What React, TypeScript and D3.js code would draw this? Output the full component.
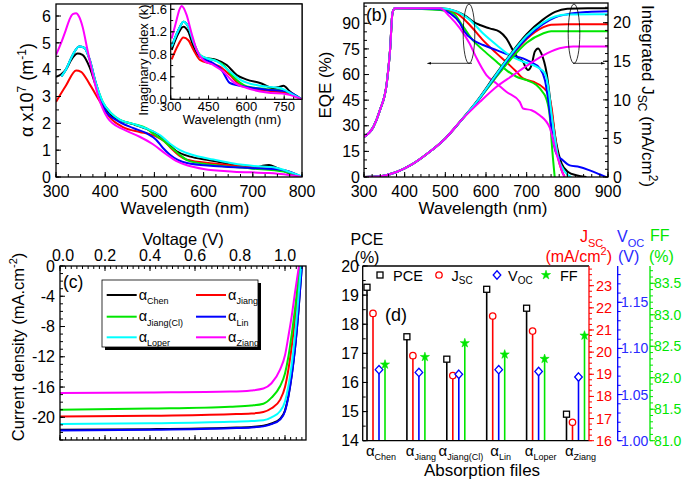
import React from "react";
import * as d3 from "d3";

const FONT = "'Liberation Sans', Arial, Helvetica, sans-serif";
const BLACK = "#000000";
const RED = "#ff0000";
const GREEN = "#00e600";
const BLUE = "#0000ff";
const CYAN = "#00ffff";
const MAGENTA = "#ff00ff";

const categories = ["Chen", "Jiang", "Jiang(Cl)", "Lin", "Loper", "Ziang"];
const seriesColors = [BLACK, RED, GREEN, BLUE, CYAN, MAGENTA];

// ---------- (a) absorption coefficient, alpha x 1e7 (m^-1) ----------
const alphaChen = [[300,3.73],[310,3.82],[320,4.0],[334,4.45],[344,4.6],[354,4.55],[368,4.1],[381,3.4],[395,2.75],[412,2.31],[429,2.12],[456,1.97],[483,1.8],[504,1.62],[525,1.3],[546,0.95],[573,0.76],[607,0.64],[634,0.55],[661,0.44],[690,0.35],[705,0.34],[720,0.42],[733,0.45],[748,0.35],[776,0.12],[800,0.02]];
const alphaJiang = [[300,2.8],[320,3.4],[341,3.97],[351,3.92],[368,3.47],[388,2.85],[409,2.23],[436,1.86],[470,1.68],[490,1.6],[505,1.5],[520,1.33],[535,1.05],[550,0.8],[566,0.64],[620,0.5],[695,0.37],[763,0.25],[800,0.0]];
const alphaJiangCl = [[311,3.75],[320,4.0],[334,4.55],[347,4.86],[357,4.82],[368,4.4],[381,3.5],[395,2.8],[412,2.38],[430,2.13],[457,1.98],[485,1.8],[497,1.62],[517,1.38],[531,1.15],[550,0.85],[570,0.6],[620,0.45],[695,0.32],[763,0.2],[800,0.0]];
const alphaLin = [[311,3.75],[320,4.0],[334,4.55],[347,4.86],[357,4.82],[368,4.4],[381,3.5],[395,2.72],[402,2.43],[422,2.13],[456,1.83],[483,1.64],[503,1.4],[517,1.09],[531,0.84],[566,0.52],[620,0.41],[695,0.34],[763,0.25],[800,0.0]];
const alphaLoper = [[311,3.75],[320,4.0],[334,4.55],[347,4.86],[357,4.82],[368,4.4],[381,3.5],[395,2.8],[412,2.38],[430,2.13],[457,1.98],[485,1.8],[512,1.55],[532,1.24],[552,1.0],[580,0.81],[620,0.65],[661,0.5],[702,0.41],[742,0.36],[776,0.18],[800,0.02]];
const alphaZiang = [[300,4.55],[310,4.98],[320,5.48],[327,5.85],[334,6.07],[341,6.1],[347,5.97],[354,5.6],[364,4.73],[375,3.8],[385,3.05],[395,2.55],[405,2.2],[415,2.0],[436,1.78],[470,1.5],[497,1.22],[524,0.85],[544,0.6],[570,0.42],[600,0.3],[661,0.2],[729,0.15],[763,0.1],[800,0.0]];

// inset: imaginary index k
const kChen = [[304,0.88],[330,1.17],[350,1.29],[370,1.2],[390,0.94],[416,0.76],[443,0.73],[482,0.7],[522,0.61],[562,0.43],[602,0.35],[654,0.29],[707,0.2],[730,0.22],[747,0.24],[773,0.14],[800,0.05],[820,0.0]];
const kJiang = [[304,0.71],[330,0.97],[350,1.1],[370,1.05],[390,0.88],[416,0.7],[456,0.64],[495,0.58],[535,0.43],[575,0.26],[654,0.17],[760,0.11],[820,0.0]];
const kJiangCl = [[304,0.94],[337,1.29],[350,1.38],[370,1.29],[390,1.02],[416,0.79],[443,0.73],[482,0.68],[509,0.61],[548,0.4],[602,0.23],[681,0.18],[760,0.14],[820,0.0]];
const kLin = [[304,0.94],[337,1.29],[350,1.38],[370,1.29],[390,1.02],[416,0.76],[469,0.64],[502,0.52],[535,0.29],[602,0.22],[681,0.17],[760,0.14],[820,0.0]];
const kLoper = [[304,0.94],[337,1.29],[350,1.38],[370,1.29],[390,1.02],[416,0.79],[443,0.73],[482,0.68],[535,0.49],[575,0.35],[654,0.24],[733,0.2],[786,0.08],[820,0.0]];
const kZiang = [[304,1.08],[320,1.35],[335,1.6],[344,1.66],[352,1.62],[363,1.5],[383,1.17],[403,0.88],[429,0.7],[469,0.61],[509,0.49],[548,0.31],[602,0.2],[681,0.12],[760,0.09],[820,0.0]];

// ---------- (b) EQE (%) ----------
const eqeUV = [[300,23.5],[323,29.3],[339,39],[356,55],[364,74],[370,96],[376,98.8]];
const eqeChen = [[487,98.8],[527,96.9],[552,93.9],[568,91],[585,89],[609,87],[634,85],[650,81.2],[666,74.3],[679,69.5],[691,67.5],[699,63.6],[703,62.6],[712,65.5],[720,73.4],[728,75.3],[736,72.4],[749,61],[761,39.1],[773,19.6],[786,7.8],[802,2.9],[822,1],[847,0]];
const eqeJiang = [[487,98.2],[527,95.9],[560,89],[593,80],[626,72.4],[658,65.5],[675,61.6],[691,57.7],[716,55.8],[740,52.5],[753,48.5],[761,41.1],[769,25.4],[777,11.7],[786,3.9],[794,0]];
const eqeJiangCl = [[487,97.8],[519,95.9],[544,88],[568,80],[593,74.3],[626,67.5],[650,62.6],[675,58.7],[700,56.7],[724,53.8],[740,49.5],[748,46],[757,35],[763,15.6],[769,0]];
const eqeLin = [[487,98.2],[511,95.9],[536,90],[546,85.5],[568,80.2],[593,77.3],[626,74.3],[658,71.4],[691,69.5],[708,67.5],[732,63.6],[745,56.7],[753,45],[765,21.5],[773,13.7],[789,9.8],[806,6.8],[830,5.9],[855,3.9],[879,1.6],[895,0]];
const eqeLoper = [[487,98.8],[527,96.9],[560,92],[593,84],[626,77.3],[658,71.4],[691,67.5],[724,64.6],[745,60.7],[753,52.8],[761,37.2],[769,23.5],[777,11.7],[789,4.9],[802,1],[810,0]];
const eqeZiang = [[487,98.8],[511,93.9],[536,87],[560,78],[577,69.5],[601,59.7],[626,54.8],[650,49.9],[683,44],[691,40.1],[712,39.1],[732,36.2],[757,28.8],[765,21.5],[773,13.7],[781,7.8],[789,2],[793,0]];

// integrated Jsc (mA/cm2)
const jintUV = [[300,0],[340,0.1],[380,0.65],[420,1.7],[460,3.2],[500,5.0],[540,7.4]];
const jintChen = [[580,10.0],[620,13.0],[660,15.9],[700,18.5],[740,20.4],[770,21.4],[800,21.8],[850,21.86],[900,21.86]];
const jintJiang = [[580,9.9],[620,12.8],[660,15.5],[700,17.9],[740,19.4],[760,19.75],[800,19.8],[900,19.8]];
const jintJiangCl = [[580,9.85],[620,12.6],[660,15.2],[700,17.4],[740,18.6],[760,18.9],[900,18.9]];
const jintLin = [[580,9.9],[620,12.8],[660,15.6],[700,18.0],[740,19.8],[770,20.7],[800,21.1],[850,21.4],[900,21.5]];
const jintLoper = [[580,9.95],[620,12.9],[660,15.8],[700,18.3],[740,20.0],[770,20.8],[800,21.05],[900,21.1]];
const jintZiang = [[585,9.74],[626,11.7],[667,13.2],[708,14.7],[749,16.0],[781,16.7],[814,16.9],[900,16.9]];

// ---------- (c) J-V curves ----------
const jvChen = [[0,-21.65],[0.4,-21.57],[0.756,-21.37],[0.85,-21.27],[0.904,-21.12],[0.94,-20.82],[0.978,-20.22],[1.0,-19.1],[1.015,-17.2],[1.03,-14.4],[1.044,-11.0],[1.06,-5.8],[1.075,0]];
const jvJiang = [[0,-19.9],[0.4,-19.8],[0.756,-19.6],[0.85,-19.5],[0.904,-19.3],[0.94,-18.8],[0.978,-17.7],[1.0,-16.0],[1.015,-13.7],[1.03,-10.6],[1.044,-7.1],[1.068,0]];
const jvJiangCl = [[0,-19.0],[0.4,-18.85],[0.756,-18.6],[0.85,-18.45],[0.904,-18.2],[0.94,-17.4],[0.978,-15.9],[1.0,-14.2],[1.015,-12.0],[1.03,-9.0],[1.044,-5.8],[1.065,0]];
const jvLin = [[0,-21.75],[0.4,-21.65],[0.756,-21.45],[0.85,-21.35],[0.904,-21.2],[0.94,-20.9],[0.978,-20.3],[1.0,-19.2],[1.015,-17.3],[1.03,-14.5],[1.044,-11.1],[1.06,-5.9],[1.075,0]];
const jvLoper = [[0,-20.9],[0.4,-20.8],[0.756,-20.6],[0.85,-20.5],[0.904,-20.4],[0.94,-20.0],[0.978,-19.2],[1.0,-17.9],[1.015,-15.9],[1.03,-13.0],[1.044,-9.3],[1.071,0]];
const jvZiang = [[0,-16.8],[0.4,-16.72],[0.756,-16.6],[0.85,-16.45],[0.904,-16.2],[0.94,-15.5],[0.978,-13.7],[1.0,-11.8],[1.015,-9.3],[1.03,-6.6],[1.044,-3.6],[1.062,0]];

// ---------- (d) photovoltaic parameters ----------
const pceValues = [19.27, 17.57, 16.8, 19.2, 18.55, 14.91];
const jscValues = [21.75, 19.84, 18.94, 21.63, 20.95, 16.83];
const vocValues = [1.077, 1.074, 1.072, 1.077, 1.075, 1.069];
const ffValues = [82.21, 82.33, 82.55, 82.37, 82.3, 82.67];

const aXTicks = [300, 400, 500, 600, 700, 800];
const aYTicks = [0, 1, 2, 3, 4, 5, 6];
const insetXTicks = [300, 450, 600, 750];
const insetYTicks = [0, 0.4, 0.8, 1.2, 1.6];
const bXTicks = [300, 400, 500, 600, 700, 800, 900];
const bYTicks = [0, 15, 30, 45, 60, 75, 90];
const bY2Ticks = [0, 5, 10, 15, 20];
const cXTicks = [0, 0.2, 0.4, 0.6, 0.8, 1.0];
const cYTicks = [0, -4, -8, -12, -16, -20];
const dPceTicks = [14, 15, 16, 17, 18, 19, 20];
const dJscTicks = [16, 17, 18, 19, 20, 21, 22, 23];
const dVocTicks = [1.0, 1.05, 1.1, 1.15];
const dFFTicks = [81.0, 81.5, 82.0, 82.5, 83.0, 83.5];

type P = number[];

function mkLine(xs: any, ys: any) {
  return d3.line<P>().x((d) => xs(d[0])).y((d) => ys(d[1])).curve(d3.curveMonotoneX);
}

function vt(s: any, x: number, vals: number[], len: number, color: string, k: string) {
  return vals.map((v, i) => (
    <line key={k + i} x1={x} x2={x + len} y1={s(v)} y2={s(v)} stroke={color} strokeWidth={1} />
  ));
}
function ht(s: any, y: number, vals: number[], len: number, color: string, k: string) {
  return vals.map((v, i) => (
    <line key={k + i} x1={s(v)} x2={s(v)} y1={y} y2={y + len} stroke={color} strokeWidth={1} />
  ));
}
function rng(a: number, b: number, step: number) {
  return d3.range(a, b + step / 2, step);
}

function PanelA() {
  const ax = d3.scaleLinear().domain([300, 800]).range([56, 302]);
  const ay = d3.scaleLinear().domain([0, 6]).range([177, 16]);
  const ix = d3.scaleLinear().domain([300, 750]).range([170.7, 284.2]);
  const iy = d3.scaleLinear().domain([0, 1.6]).range([99.3, 9.3]);
  const L = mkLine(ax, ay);
  const IL = mkLine(ix, iy);
  const alphas = [alphaChen, alphaJiang, alphaJiangCl, alphaLin, alphaLoper, alphaZiang];
  const ks = [kChen, kJiang, kJiangCl, kLin, kLoper, kZiang];
  return (
    <g>
      <defs>
        <clipPath id="clipA"><rect x={56} y={4} width={246} height={173} /></clipPath>
        <clipPath id="clipI"><rect x={170.7} y={4} width={131.3} height={95.3} /></clipPath>
      </defs>
      <g clipPath="url(#clipA)">
        {alphas.map((d, i) => (
          <path key={i} d={L(d as any) || ""} fill="none" stroke={seriesColors[i]} strokeWidth={2} />
        ))}
      </g>
      {ht(ax, 177, rng(300, 800, 25), -3, BLACK, "amx")}
      {ht(ax, 177, aXTicks, -5, BLACK, "aMx")}
      {vt(ay, 56, rng(0, 6, 0.5), 3, BLACK, "amy")}
      {vt(ay, 56, aYTicks, 5, BLACK, "aMy")}
      <rect x={56} y={4} width={246} height={173} fill="none" stroke={BLACK} strokeWidth={1.3} />
      {aXTicks.map((v) => (
        <text key={"ax" + v} x={ax(v)} y={197} fontSize={16} textAnchor="middle">{v}</text>
      ))}
      {aYTicks.map((v) => (
        <text key={"ay" + v} x={51} y={ay(v) + 5.7} fontSize={16} textAnchor="end">{v}</text>
      ))}
      <text x={185} y={214} fontSize={17} textAnchor="middle">Wavelength (nm)</text>
      <text transform="translate(33,90) rotate(-90)" fontSize={18} textAnchor="middle">
        α x10<tspan fontSize={12} dy={-7}>7</tspan>
        <tspan dy={7}> (m</tspan>
        <tspan fontSize={12} dy={-7}>-1</tspan>
        <tspan dy={7}>)</tspan>
      </text>
      <text x={277} y={22} fontSize={17.5}>(a)</text>

      {/* inset */}
      <rect x={170.7} y={4} width={131.3} height={95.3} fill="#ffffff" stroke="none" />
      <g clipPath="url(#clipI)">
        {ks.map((d, i) => (
          <path key={i} d={IL(d as any) || ""} fill="none" stroke={seriesColors[i]} strokeWidth={2} />
        ))}
      </g>
      {ht(ix, 99.3, rng(300, 800, 37.5), -2.5, BLACK, "imx")}
      {ht(ix, 99.3, insetXTicks, -4, BLACK, "iMx")}
      {vt(iy, 170.7, rng(0, 1.6, 0.2), 2.5, BLACK, "imy")}
      {vt(iy, 170.7, insetYTicks, 4, BLACK, "iMy")}
      <rect x={170.7} y={4} width={131.3} height={95.3} fill="none" stroke={BLACK} strokeWidth={1.2} />
      {insetXTicks.map((v) => (
        <text key={"ix" + v} x={ix(v)} y={111} fontSize={13} textAnchor="middle">{v}</text>
      ))}
      {insetYTicks.map((v) => (
        <text key={"iy" + v} x={167} y={iy(v) + 4.6} fontSize={13} textAnchor="end">{v.toFixed(1)}</text>
      ))}
      <text x={232} y={124} fontSize={13} textAnchor="middle">Wavelength (nm)</text>
      <text transform="translate(147.5,60) rotate(-90)" fontSize={13} textAnchor="middle">Imaginary Index (k)</text>
    </g>
  );
}

function PanelB() {
  const bx = d3.scaleLinear().domain([300, 900]).range([364, 608]);
  const byL = d3.scaleLinear().domain([0, 90]).range([177, 23.3]);
  const byR = d3.scaleLinear().domain([0, 20]).range([177, 22.7]);
  const LE = mkLine(bx, byL);
  const LJ = mkLine(bx, byR);
  const eqes = [eqeChen, eqeJiang, eqeJiangCl, eqeLin, eqeLoper, eqeZiang];
  const jints = [jintChen, jintJiang, jintJiangCl, jintLin, jintLoper, jintZiang];
  const order = [0, 1, 2, 3, 4, 5];
  return (
    <g>
      <defs>
        <clipPath id="clipB"><rect x={364} y={3} width={244} height={174} /></clipPath>
        <marker id="arrL" viewBox="0 0 10 10" refX={1} refY={5} markerWidth={6} markerHeight={6} orient="auto-start-reverse">
          <path d="M0,2 L10,5 L0,8 z" fill={BLACK} />
        </marker>
      </defs>
      <g clipPath="url(#clipB)">
        {order.map((i) => (
          <path key={"e" + i} d={LE(eqeUV.concat(eqes[i]) as any) || ""} fill="none" stroke={seriesColors[i]} strokeWidth={2} />
        ))}
        {order.map((i) => (
          <path key={"j" + i} d={LJ(jintUV.concat(jints[i]) as any) || ""} fill="none" stroke={seriesColors[i]} strokeWidth={2} />
        ))}
      </g>
      {ht(bx, 177, rng(300, 900, 20), -3, BLACK, "bmx")}
      {ht(bx, 177, bXTicks, -5, BLACK, "bMx")}
      {vt(byL, 364, rng(0, 100, 5), 3, BLACK, "bmy")}
      {vt(byL, 364, bYTicks, 5, BLACK, "bMy")}
      {vt(byR, 608, rng(0, 22, 1), -3, BLACK, "bmr")}
      {vt(byR, 608, bY2Ticks, -5, BLACK, "bMr")}
      <rect x={364} y={3} width={244} height={174} fill="none" stroke={BLACK} strokeWidth={1.3} />
      {bXTicks.map((v) => (
        <text key={"bx" + v} x={bx(v)} y={197} fontSize={16} textAnchor="middle">{v}</text>
      ))}
      {bYTicks.map((v) => (
        <text key={"by" + v} x={360} y={byL(v) + 5.7} fontSize={16} textAnchor="end">{v}</text>
      ))}
      {bY2Ticks.map((v) => (
        <text key={"br" + v} x={613} y={byR(v) + 5.7} fontSize={16} textAnchor="start">{v}</text>
      ))}
      <text x={483} y={214} fontSize={17} textAnchor="middle">Wavelength (nm)</text>
      <text transform="translate(331,85) rotate(-90)" fontSize={17} textAnchor="middle">EQE (%)</text>
      <text transform="translate(642,96) rotate(90)" fontSize={17} textAnchor="middle">
        Integrated J<tspan fontSize={12} dy={4}>SC</tspan>
        <tspan dy={-4}> (mA/cm</tspan>
        <tspan fontSize={12} dy={-7}>2</tspan>
        <tspan dy={7}>)</tspan>
      </text>
      <text x={366} y={21} fontSize={17.5}>(b)</text>
      {/* ellipses and arrows */}
      <ellipse cx={469} cy={33.7} rx={5.8} ry={29.7} fill="none" stroke={BLACK} strokeWidth={0.8} />
      <line x1={472} y1={63.3} x2={431} y2={63.3} stroke={BLACK} strokeWidth={0.8} markerEnd="url(#arrL)" />
      <ellipse cx={574} cy={33.7} rx={5.8} ry={29.7} fill="none" stroke={BLACK} strokeWidth={0.8} />
      <line x1={573} y1={63.3} x2={601} y2={63.3} stroke={BLACK} strokeWidth={0.8} markerEnd="url(#arrL)" />
    </g>
  );
}

function PanelC() {
  const cx = d3.scaleLinear().domain([0, 1]).range([60, 285]);
  const cy = d3.scaleLinear().domain([0, -20]).range([266, 417.3]);
  const L = mkLine(cx, cy);
  const jvs = [jvChen, jvJiang, jvJiangCl, jvLin, jvLoper, jvZiang];
  const legendRows = [295, 316.7, 337.3];
  return (
    <g>
      <defs>
        <clipPath id="clipC"><rect x={60} y={266} width={246} height={174} /></clipPath>
      </defs>
      <g clipPath="url(#clipC)">
        {jvs.map((d, i) => (
          <path key={i} d={L(d as any) || ""} fill="none" stroke={seriesColors[i]} strokeWidth={2} />
        ))}
      </g>
      {ht(cx, 266, rng(0, 1.075, 0.025), 3, BLACK, "cmx")}
      {ht(cx, 266, cXTicks, 5, BLACK, "cMx")}
      {ht(cx, 440, rng(0, 1.075, 0.025), -3, BLACK, "cmb")}
      {ht(cx, 440, cXTicks, -5, BLACK, "cMb")}
      {vt(cy, 60, rng(-23, 0, 1), 3, BLACK, "cmy")}
      {vt(cy, 60, cYTicks, 5, BLACK, "cMy")}
      <rect x={60} y={266} width={246} height={174} fill="none" stroke={BLACK} strokeWidth={1.3} />
      {cXTicks.map((v) => (
        <text key={"cx" + v} x={v === 0 ? cx(v) + 3 : cx(v)} y={261} fontSize={16} textAnchor="middle">{v.toFixed(1)}</text>
      ))}
      {cYTicks.map((v) => (
        <text key={"cy" + v} x={55} y={cy(v) + 5.7} fontSize={16} textAnchor="end">{v}</text>
      ))}
      <text x={183} y={245} fontSize={16.5} textAnchor="middle">Voltage (V)</text>
      <text transform="translate(24,347) rotate(-90)" fontSize={16.5} textAnchor="middle">
        Current density (mA.cm<tspan fontSize={11} dy={-7}>-2</tspan>
        <tspan dy={7}>)</tspan>
      </text>
      <text x={63} y={288} fontSize={17.5}>(c)</text>
      {/* legend */}
      <rect x={105} y={283} width={156} height={67} fill={BLACK} />
      <rect x={102} y={280} width={156} height={67} fill="#ffffff" stroke={BLACK} strokeWidth={0.8} />
      {categories.map((c, i) => {
        const row = Math.floor(i / 2);
        const col = i % 2;
        const x0 = col === 0 ? 106.7 : 196;
        const y0 = legendRows[row];
        return (
          <g key={c}>
            <line x1={x0} x2={x0 + 30} y1={y0} y2={y0} stroke={seriesColors[i]} strokeWidth={2} />
            <text x={x0 + 32} y={y0 + 4.5} fontSize={14.5}>
              α<tspan fontSize={9} dy={4.5}>{c}</tspan>
            </text>
          </g>
        );
      })}
    </g>
  );
}

function Star({ x, y, color }: { x: number; y: number; color: string }) {
  const p = d3.symbol().type(d3.symbolStar).size(26)();
  return <path d={p || ""} transform={`translate(${x},${y})`} fill={color} stroke={color} strokeWidth={0.6} />;
}
function Square({ x, y }: { x: number; y: number }) {
  return <rect x={x - 3} y={y - 3} width={6} height={6} fill="#ffffff" stroke={BLACK} strokeWidth={1.3} />;
}
function Circ({ x, y }: { x: number; y: number }) {
  return <circle cx={x} cy={y} r={3.2} fill="#ffffff" stroke={RED} strokeWidth={1.3} />;
}
function Diam({ x, y }: { x: number; y: number }) {
  return <path d="M0,-4.2 L3.8,0 L0,4.2 L-3.8,0 Z" transform={`translate(${x},${y})`} fill="#ffffff" stroke={BLUE} strokeWidth={1.3} />;
}

function PanelD() {
  const dx = d3.scalePoint<string>().domain(categories).range([376, 575.5]);
  const yP = d3.scaleLinear().domain([14, 20]).range([440.7, 266]);
  const yJ = d3.scaleLinear().domain([16, 23]).range([440.7, 285.7]);
  const yV = d3.scaleLinear().domain([1.0, 1.15]).range([440.7, 302.3]);
  const yF = d3.scaleLinear().domain([81, 83.5]).range([440.7, 283.3]);
  const base = 440.7;
  const offs = [-9, -3, 3, 9];
  return (
    <g>
      {categories.map((c, i) => {
        const cx = dx(c) as number;
        const xs = offs.map((o) => cx + o);
        const yy = [yP(pceValues[i]), yJ(jscValues[i]), yV(vocValues[i]), yF(ffValues[i])];
        const cols = [BLACK, RED, BLUE, GREEN];
        return (
          <g key={c}>
            {xs.map((x, k) => (
              <line key={k} x1={x} x2={x} y1={base} y2={yy[k]} stroke={cols[k]} strokeWidth={1.6} />
            ))}
            <Square x={xs[0]} y={yy[0]} />
            <Circ x={xs[1]} y={yy[1]} />
            <Diam x={xs[2]} y={yy[2]} />
            <Star x={xs[3]} y={yy[3]} color={GREEN} />
            <text x={cx + 5} y={456} fontSize={15} textAnchor="middle">
              α<tspan fontSize={9} dy={4}>{c}</tspan>
            </text>
          </g>
        );
      })}
      {/* frame */}
      <line x1={362.7} x2={589} y1={266} y2={266} stroke={BLACK} strokeWidth={1.3} />
      <line x1={362.7} x2={589} y1={440.7} y2={440.7} stroke={BLACK} strokeWidth={1.3} />
      <line x1={362.7} x2={362.7} y1={266} y2={440.7} stroke={BLACK} strokeWidth={1.3} />
      {vt(yP, 362.7, rng(14, 20, 0.5), 3, BLACK, "dmp")}
      {vt(yP, 362.7, dPceTicks, 5, BLACK, "dMp")}
      {dPceTicks.map((v) => (
        <text key={"dp" + v} x={359} y={yP(v) + 5.7} fontSize={16} textAnchor="end">{v}</text>
      ))}
      {/* Jsc axis */}
      <line x1={589} x2={589} y1={266} y2={440.7} stroke={RED} strokeWidth={1.3} />
      {vt(yJ, 589, rng(16, 23.75, 0.25), 3, RED, "dmj")}
      {vt(yJ, 589, dJscTicks, 5, RED, "dMj")}
      {dJscTicks.map((v) => (
        <text key={"dj" + v} x={596} y={yJ(v) + 5} fontSize={14.5} textAnchor="start" fill={RED}>{v}</text>
      ))}
      {/* Voc axis */}
      <line x1={617.7} x2={617.7} y1={266} y2={440.7} stroke={BLUE} strokeWidth={1.3} />
      {vt(yV, 617.7, rng(1.0, 1.18, 0.01), 3, BLUE, "dmv")}
      {vt(yV, 617.7, dVocTicks, 5, BLUE, "dMv")}
      {dVocTicks.map((v) => (
        <text key={"dv" + v} x={621} y={yV(v) + 5} fontSize={14} textAnchor="start" fill="#2a2aff">{v.toFixed(2)}</text>
      ))}
      {/* FF axis */}
      <line x1={650} x2={650} y1={266} y2={440.7} stroke={GREEN} strokeWidth={1.3} />
      {vt(yF, 650, rng(81, 83.7, 0.1), 3, GREEN, "dmf")}
      {vt(yF, 650, dFFTicks, 5, GREEN, "dMf")}
      {dFFTicks.map((v) => (
        <text key={"df" + v} x={654} y={yF(v) + 5} fontSize={14} textAnchor="start" fill={GREEN}>{v.toFixed(1)}</text>
      ))}
      {/* axis titles */}
      <text x={367} y={245} fontSize={16} textAnchor="middle">PCE</text>
      <text x={367} y={263} fontSize={16} textAnchor="middle">(%)</text>
      <text x={580} y={242} fontSize={16} fill={RED}>
        J<tspan fontSize={11} dy={5}>SC</tspan>
      </text>
      <text x={612} y={262} fontSize={16} textAnchor="end" fill={RED}>
        (mA/cm<tspan fontSize={11} dy={-7}>2</tspan><tspan dy={7}>)</tspan>
      </text>
      <text x={617} y={242} fontSize={16} fill="#2a2aff">
        V<tspan fontSize={11} dy={5}>OC</tspan>
      </text>
      <text x={618} y={262} fontSize={16} fill="#2a2aff">(V)</text>
      <text x={650} y={241} fontSize={16} fill={GREEN}>FF</text>
      <text x={649} y={262} fontSize={16} fill={GREEN}>(%)</text>
      {/* legend */}
      <Square x={380} y={275} />
      <text x={393} y={280.5} fontSize={14.5}>PCE</text>
      <Circ x={439} y={275} />
      <text x={451.5} y={280.5} fontSize={14.5}>
        J<tspan fontSize={10} dy={3.5}>SC</tspan>
      </text>
      <Diam x={497} y={275} />
      <text x={508} y={280.5} fontSize={14.5}>
        V<tspan fontSize={10} dy={3.5}>OC</tspan>
      </text>
      <Star x={546} y={275} color={GREEN} />
      <text x={560} y={280.5} fontSize={14.5}>FF</text>
      <text x={385} y={321} fontSize={18}>(d)</text>
      <text x={482} y={476} fontSize={17} textAnchor="middle">Absorption files</text>
    </g>
  );
}

export default function App() {
  return (
    <svg
      width={685}
      height={480}
      viewBox="0 0 685 480"
      style={{ position: "absolute", left: 0, top: 0, background: "#ffffff" }}
      fontFamily={FONT}
    >
      <rect x={0} y={0} width={685} height={480} fill="#ffffff" />
      <PanelA />
      <PanelB />
      <PanelC />
      <PanelD />
    </svg>
  );
}
